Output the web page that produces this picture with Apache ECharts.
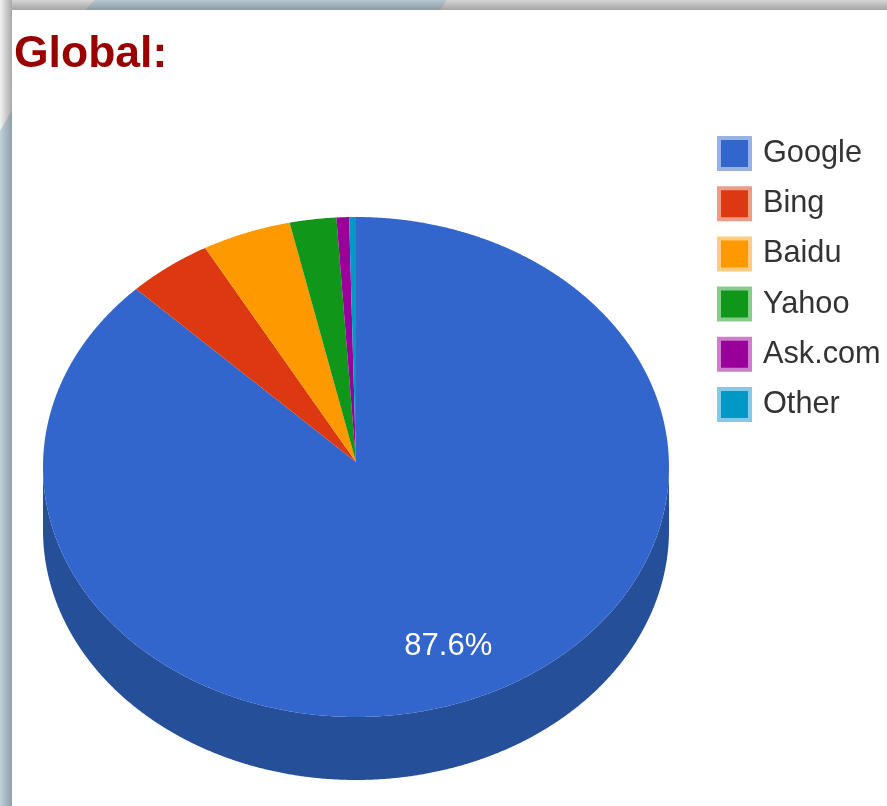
<!DOCTYPE html>
<html>
<head>
<meta charset="utf-8">
<title>Global search engine share</title>
<style>
  html, body { margin: 0; padding: 0; background: #fff; }
  #chart { width: 887px; height: 806px; }
</style>
<script src="https://cdn.jsdelivr.net/npm/echarts@6/dist/echarts.min.js"></script>
</head>
<body>
<div id="chart"></div>
<script>
// Share of searches per engine, in percent, clockwise from twelve o'clock.
const categories = ['Google', 'Bing', 'Baidu', 'Yahoo', 'Ask.com', 'Other'];
const shares = [87.6, 4.4, 4.6, 2.4, 0.65, 0.35];
const faceColors = ['#3366cc', '#dc3912', '#ff9900', '#109618', '#990099', '#0099c6'];
const sideColors = ['#254f99', '#a32a0d', '#bd7100', '#0c6f12', '#710071', '#007192'];
const swatchBorders = ['#99b2e5', '#ed9c88', '#ffcc80', '#88cb8c', '#cc80cc', '#80cce2'];
const labelledCategories = ['Google'];

// Tilted-disc geometry; the slices meet slightly above the rim's centre.
const CX = 356, CY = 467, RX = 313, RY = 250, DEPTH = 63, APEX_Y = 462;
const LABEL_RADIUS = 0.776;
const total = shares.reduce((a, b) => a + b, 0);

function rimPoint(angle, dy) {
  return [CX + RX * Math.sin(angle), CY - RY * Math.cos(angle) + (dy || 0)];
}

function arcPoints(a0, a1, dy) {
  const steps = Math.max(2, Math.ceil((a1 - a0) / 0.004));
  const pts = [];
  for (let i = 0; i <= steps; i++) pts.push(rimPoint(a0 + (a1 - a0) * i / steps, dy));
  return pts;
}

function sliceRenderer(index) {
  const before = shares.slice(0, index).reduce((a, b) => a + b, 0);
  return function (params, api) {
    const value = api.value(0);
    const a0 = before / total * Math.PI * 2;
    const a1 = (before + value) / total * Math.PI * 2;
    const children = [];

    // Wall of the disc: only the part of the rim facing the viewer.
    const f0 = Math.max(a0, Math.PI / 2);
    const f1 = Math.min(a1, Math.PI * 1.5);
    if (f1 > f0) {
      const top = arcPoints(f0, f1, 0);
      const bottom = arcPoints(f0, f1, DEPTH).reverse();
      children.push({
        type: 'polygon',
        shape: { points: top.concat(bottom) },
        style: { fill: sideColors[index] }
      });
    }

    // Top face of the slice.
    children.push({
      type: 'polygon',
      shape: { points: [[CX, APEX_Y]].concat(arcPoints(a0, a1, 0)) },
      style: { fill: faceColors[index] }
    });

    if (labelledCategories.indexOf(categories[index]) >= 0) {
      const mid = (a0 + a1) / 2;
      children.push({
        type: 'text',
        x: CX + RX * LABEL_RADIUS * Math.sin(mid),
        y: CY - RY * LABEL_RADIUS * Math.cos(mid),
        style: {
          text: value.toFixed(1) + '%',
          fill: '#ffffff',
          font: '31px "Liberation Sans", Arial, sans-serif',
          align: 'center',
          verticalAlign: 'middle'
        }
      });
    }
    return { type: 'group', children: children };
  };
}

const chart = echarts.init(document.getElementById('chart'), null, { renderer: 'canvas' });

chart.setOption({
  animation: false,
  backgroundColor: '#ffffff',
  color: faceColors,
  title: {
    text: 'Global:',
    left: 14,
    top: 30,
    padding: 0,
    textStyle: {
      color: '#990000',
      fontFamily: '"Liberation Sans", Arial, sans-serif',
      fontSize: 44.5,
      fontWeight: 'bold',
      lineHeight: 50
    }
  },
  legend: {
    left: 717,
    top: 136,
    padding: 0,
    orient: 'vertical',
    icon: 'rect',
    itemWidth: 31,
    itemHeight: 31,
    itemGap: 15.2,
    selectedMode: false,
    data: categories.map((name, i) => ({
      name: name,
      itemStyle: { borderColor: swatchBorders[i], borderWidth: 4 }
    })),
    textStyle: {
      color: '#333333',
      fontFamily: '"Liberation Sans", Arial, sans-serif',
      fontSize: 30.7,
      padding: [0, 0, 0, 8]
    }
  },
  // Browser-window edge behind the white panel.
  graphic: {
    elements: [
      {
        type: 'rect', silent: true, z: -10,
        shape: { x: 0, y: 0, width: 887, height: 10 },
        style: {
          fill: { type: 'linear', x: 0, y: 0, x2: 0, y2: 1, colorStops: [
            { offset: 0, color: '#d6d6d6' }, { offset: 1, color: '#a4a4a4' }
          ] }
        }
      },
      {
        type: 'polygon', silent: true, z: -9,
        shape: { points: [[95, 0], [447, 0], [440, 10], [85, 10]] },
        style: {
          fill: { type: 'linear', x: 0, y: 0, x2: 0, y2: 1, colorStops: [
            { offset: 0, color: '#b6c8d3' }, { offset: 1, color: '#8d9ba3' }
          ] }
        }
      },
      {
        type: 'rect', silent: true, z: -8,
        shape: { x: 0, y: 0, width: 12, height: 806 },
        style: {
          fill: { type: 'linear', x: 0, y: 0, x2: 1, y2: 0, colorStops: [
            { offset: 0, color: '#f2f2f2' }, { offset: 1, color: '#a8a8a8' }
          ] }
        }
      },
      {
        type: 'polygon', silent: true, z: -7,
        shape: { points: [[12, 110], [12, 806], [0, 806], [0, 131]] },
        style: {
          fill: { type: 'linear', x: 0, y: 0, x2: 1, y2: 0, colorStops: [
            { offset: 0, color: '#bed2dc' }, { offset: 1, color: '#8f9ea4' }
          ] }
        }
      }
    ]
  },
  series: categories.map((name, i) => ({
    type: 'custom',
    name: name,
    coordinateSystem: 'none',
    silent: true,
    itemStyle: { color: faceColors[i] },
    data: [[shares[i]]],
    renderItem: sliceRenderer(i)
  }))
});
</script>
</body>
</html>
